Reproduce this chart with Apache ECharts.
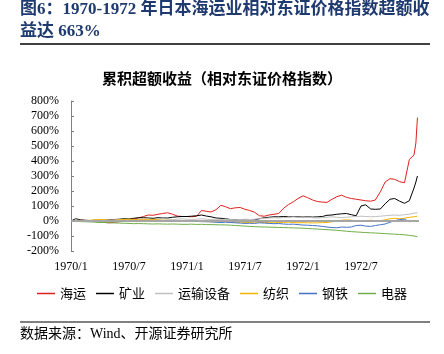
<!DOCTYPE html>
<html><head><meta charset="utf-8">
<script src="https://cdn.jsdelivr.net/npm/echarts@6/dist/echarts.min.js"></script>
<style>html,body{margin:0;padding:0;background:#fff}#c{width:444px;height:354px}</style>
</head><body><div id="c"></div>
<script>
const dates = [
'1970-01-01','1970-01-16','1970-02-01','1970-02-15','1970-03-01','1970-03-16','1970-04-01','1970-04-16','1970-05-01','1970-05-16','1970-06-01','1970-06-16',
'1970-07-01','1970-07-16','1970-08-01','1970-08-16','1970-09-01','1970-09-16','1970-10-01','1970-10-16','1970-11-01','1970-11-16','1970-12-01','1970-12-16',
'1971-01-01','1971-01-16','1971-02-01','1971-02-15','1971-03-01','1971-03-16','1971-04-01','1971-04-16','1971-05-01','1971-05-16','1971-06-01','1971-06-16',
'1971-07-01','1971-07-16','1971-08-01','1971-08-16','1971-09-01','1971-09-16','1971-10-01','1971-10-16','1971-11-01','1971-11-16','1971-12-01','1971-12-16',
'1972-01-01','1972-01-16','1972-02-01','1972-02-15','1972-03-01','1972-03-16','1972-04-01','1972-04-16','1972-05-01','1972-05-16','1972-06-01','1972-06-16',
'1972-07-01','1972-07-16','1972-08-01','1972-08-16','1972-09-01','1972-09-16','1972-10-01','1972-10-16','1972-11-01','1972-11-16','1972-12-01','1972-12-16',
'1972-12-22','1972-12-27'];
const shipping = [0,3,5,2,0,-3,-8,-10,-12,-8,-5,0, 5,12,20,30,40,38,45,50,55,45,33,30, 30,28,32,70,65,60,75,105,95,82,88,90, 78,70,58,35,32,40,45,50,85,110,128,150, 168,155,140,130,126,124,145,162,172,158,150,145, 140,135,132,140,195,260,282,278,262,255,410,440, 520,690];
const mining = [0,15,8,5,3,5,3,5,8,10,12,15, 15,18,22,22,20,18,22,20,20,25,28,30, 30,32,35,40,33,28,20,18,15,10,8,7, 6,5,8,15,22,25,28,28,30,28,30,28, 26,28,26,28,30,38,40,45,48,50,42,35, 100,108,80,78,80,115,145,150,132,118,135,220, 260,300];
const transport = [0,5,3,2,0,2,3,5,5,8,10,10, 12,10,12,15,12,10,12,15,12,10,12,15, 12,10,12,15,12,10,12,10,12,10,8,10, 12,10,12,15,18,20,22,20,22,25,28,25, 22,25,22,20,22,25,28,25,22,25,28,30, 32,30,28,30,32,35,38,40,38,42,45,52, 50,55];
const textile = [0,3,5,3,5,8,10,8,5,5,8,10, 12,10,8,10,12,10,8,5,5,3,2,0, -2,-3,-2,-4,-3,-5,-5,-6,-5,-7,-8,-8, -9,-10,-8,-9,-10,-9,-8,-10,-9,-8,-10,-12, -11,-12,-13,-12,-11,-10,-5,0,5,8,5,2, 0,3,5,3,2,8,15,18,15,18,25,28, 30,32];
const steel = [0,-2,-3,-2,-4,-3,-5,-4,-3,-2,-3,-2, 0,2,0,2,0,-2,0,2,0,-2,-3,-2, 0,-2,-3,-4,-5,-6,-8,-10,-8,-10,-12,-14, -16,-15,-16,-12,-14,-16,-18,-17,-20,-22,-21,-24, -27,-28,-30,-32,-36,-40,-44,-45,-40,-42,-40,-30, -28,-34,-36,-30,-25,-20,-8,2,10,12,-5,2, -3,0];
const electric = [0,-2,-4,-5,-6,-8,-10,-10,-12,-13,-14,-15, -16,-18,-17,-18,-19,-20,-19,-20,-21,-20,-21,-22, -22,-21,-23,-22,-24,-24,-25,-26,-26,-28,-30,-32, -34,-36,-38,-39,-40,-41,-42,-43,-44,-45,-46,-47, -48,-50,-52,-54,-56,-58,-60,-62,-65,-68,-71,-73, -75,-77,-79,-80,-82,-84,-86,-88,-90,-92,-96,-100, -102,-105];
const seriesNames = ['海运','矿业','运输设备','纺织','钢铁','电器'];
const seriesColors = ['#E0201E','#000000','#BFBFBF','#F2B400','#4472C4','#70AD47'];
const seriesValues = [shipping, mining, transport, textile, steel, electric];
const xTickLabels = ['1970/1','1970/7','1971/1','1971/7','1972/1','1972/7'];

function monthPos(s){
  const p = s.split('-').map(Number);
  const dim = new Date(p[0], p[1], 0).getDate();
  return (p[0]-1970)*12 + (p[1]-1) + (p[2]-1)/dim;
}
const xs = dates.map(monthPos);
const serifCJK = '"Liberation Serif","Noto Sans CJK SC",serif';

const chart = echarts.init(document.getElementById('c'), null, {renderer:'canvas'});
const series = seriesNames.map((n,i)=>({
  name:n, type:'line', showSymbol:false, symbol:'none',
  lineStyle:{width:1, color:seriesColors[i]}, itemStyle:{color:seriesColors[i]},
  data: seriesValues[i].map((v,j)=>[xs[j], v]), z: 3
}));
series.push({type:'line', data:[], silent:true, z:2,
  markLine:{silent:true, symbol:'none', label:{show:false},
    lineStyle:{color:'#A6A6A6', width:2, type:'solid'}, data:[{yAxis:0}]}});
chart.setOption({
  animation:false,
  title:{text:'累积超额收益（相对东证价格指数）', left:'center', top:66,
    textStyle:{fontSize:15, fontWeight:'bold', color:'#000', fontFamily:'"Noto Sans CJK SC",sans-serif'}},
  grid:{left:71, right:25, top:101, bottom:103},
  xAxis:{type:'value', min:0, max:36, interval:6,
    axisLine:{show:false}, axisTick:{show:false}, splitLine:{show:false},
    axisLabel:{margin:10, color:'#000', fontSize:12, fontFamily:'"Liberation Serif",serif',
      formatter:v=>xTickLabels[Math.round(v/6)]||''}},
  yAxis:{type:'value', min:-200, max:800, interval:100,
    axisLine:{show:true, lineStyle:{color:'#808080', width:1}},
    axisTick:{show:true, inside:true, length:3, lineStyle:{color:'#808080'}},
    splitLine:{show:false},
    axisLabel:{margin:12, color:'#000', fontSize:12, fontFamily:'"Liberation Serif",serif', formatter:'{value}%'}},
  legend:{data:seriesNames, top:282, left:'center', itemWidth:18, itemHeight:1.5, itemGap:10,
    icon:'rect', textStyle:{fontSize:13, color:'#000', fontFamily:'"Noto Sans CJK SC",sans-serif'}},
  series: series,
  graphic:[
    {type:'text', left:20, top:1, style:{text:'图6：1970-1972 年日本海运业相对东证价格指数超额收', fill:'#1F3A6E', font:'bold 17px '+serifCJK}},
    {type:'text', left:20, top:23, style:{text:'益达 663%', fill:'#1F3A6E', font:'bold 17px '+serifCJK}},
    {type:'line', shape:{x1:20,y1:44,x2:430,y2:44}, style:{stroke:'#000', lineWidth:1.5}},
    {type:'line', shape:{x1:20,y1:322,x2:430,y2:322}, style:{stroke:'#808080', lineWidth:2}},
    {type:'text', left:20, top:327, style:{text:'数据来源：Wind、开源证券研究所', fill:'#000', font:'14px '+serifCJK}}
  ]
});
</script></body></html>
